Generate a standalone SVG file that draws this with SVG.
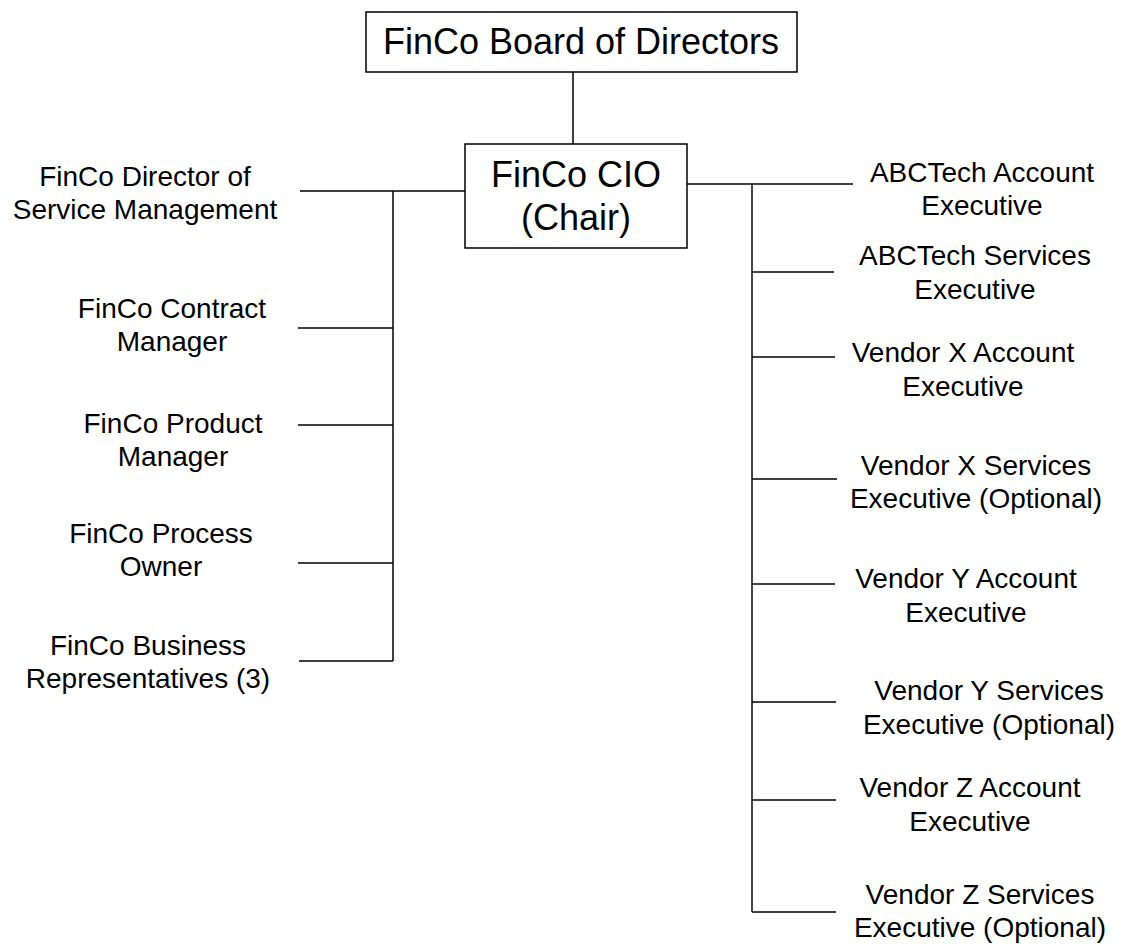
<svg xmlns="http://www.w3.org/2000/svg" width="1121" height="944" viewBox="0 0 1121 944">
  <style>
    .box { fill: #ffffff; stroke: #000000; stroke-width: 1.5; }
    .wire { stroke: #000000; stroke-width: 1.5; fill: none; }
    .big { font-family: "Liberation Sans", Arial, sans-serif; font-size: 36px; fill: #000000; text-anchor: middle; }
    .lbl { font-family: "Liberation Sans", Arial, sans-serif; font-size: 28px; fill: #000000; text-anchor: middle; }
  </style>
  <rect width="1121" height="944" fill="#ffffff"/>

  <!-- connectors -->
  <g id="connectors" class="wire">
    <line x1="573" y1="72" x2="573" y2="144"/>
    <!-- left branch -->
    <line x1="300" y1="191" x2="465" y2="191"/>
    <line x1="393" y1="191" x2="393" y2="661"/>
    <line x1="298" y1="328" x2="393" y2="328"/>
    <line x1="298" y1="425" x2="393" y2="425"/>
    <line x1="298" y1="563" x2="393" y2="563"/>
    <line x1="299" y1="661" x2="393" y2="661"/>
    <!-- right branch -->
    <line x1="687" y1="184" x2="853" y2="184"/>
    <line x1="752" y1="184" x2="752" y2="912"/>
    <line x1="752" y1="272" x2="834" y2="272"/>
    <line x1="752" y1="357" x2="835" y2="357"/>
    <line x1="752" y1="479" x2="837" y2="479"/>
    <line x1="752" y1="584" x2="835" y2="584"/>
    <line x1="752" y1="702" x2="836" y2="702"/>
    <line x1="752" y1="800" x2="836" y2="800"/>
    <line x1="752" y1="912" x2="836" y2="912"/>
  </g>

  <g id="board">
    <rect class="box" x="366" y="12" width="431" height="60"/>
    <text class="big" x="581" y="54">FinCo Board of Directors</text>
  </g>

  <g id="cio">
    <rect class="box" x="465" y="144" width="222" height="104"/>
    <text class="big" x="576" y="187">FinCo CIO</text>
    <text class="big" x="576" y="230">(Chair)</text>
  </g>

  <g id="director-service-mgmt">
    <text class="lbl" x="145" y="186">FinCo Director of</text>
    <text class="lbl" x="145" y="219">Service Management</text>
  </g>
  <g id="contract-manager">
    <text class="lbl" x="172" y="318">FinCo Contract</text>
    <text class="lbl" x="172" y="351">Manager</text>
  </g>
  <g id="product-manager">
    <text class="lbl" x="173" y="433">FinCo Product</text>
    <text class="lbl" x="173" y="466">Manager</text>
  </g>
  <g id="process-owner">
    <text class="lbl" x="161" y="543">FinCo Process</text>
    <text class="lbl" x="161" y="576">Owner</text>
  </g>
  <g id="business-reps">
    <text class="lbl" x="148" y="655">FinCo Business</text>
    <text class="lbl" x="148" y="688">Representatives (3)</text>
  </g>

  <g id="abctech-account">
    <text class="lbl" x="982" y="182">ABCTech Account</text>
    <text class="lbl" x="982" y="215">Executive</text>
  </g>
  <g id="abctech-services">
    <text class="lbl" x="975" y="265">ABCTech Services</text>
    <text class="lbl" x="975" y="299">Executive</text>
  </g>
  <g id="vendor-x-account">
    <text class="lbl" x="963" y="362">Vendor X Account</text>
    <text class="lbl" x="963" y="396">Executive</text>
  </g>
  <g id="vendor-x-services">
    <text class="lbl" x="976" y="475">Vendor X Services</text>
    <text class="lbl" x="976" y="508">Executive (Optional)</text>
  </g>
  <g id="vendor-y-account">
    <text class="lbl" x="966" y="588">Vendor Y Account</text>
    <text class="lbl" x="966" y="622">Executive</text>
  </g>
  <g id="vendor-y-services">
    <text class="lbl" x="989" y="700">Vendor Y Services</text>
    <text class="lbl" x="989" y="734">Executive (Optional)</text>
  </g>
  <g id="vendor-z-account">
    <text class="lbl" x="970" y="797">Vendor Z Account</text>
    <text class="lbl" x="970" y="831">Executive</text>
  </g>
  <g id="vendor-z-services">
    <text class="lbl" x="980" y="904">Vendor Z Services</text>
    <text class="lbl" x="980" y="937">Executive (Optional)</text>
  </g>
</svg>
